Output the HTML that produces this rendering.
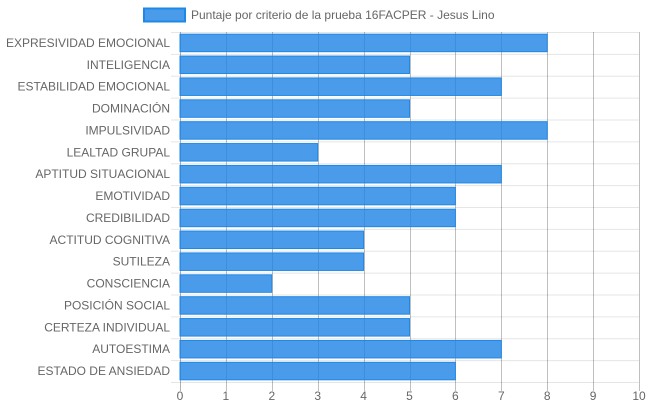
<!DOCTYPE html>
<html><head><meta charset="utf-8"><style>
body{margin:0;background:#fff;}
svg{display:block;font-family:"Liberation Sans",sans-serif;}
</style></head><body>
<svg id="c" width="648" height="410"></svg>
<script>
const categories=["EXPRESIVIDAD EMOCIONAL","INTELIGENCIA","ESTABILIDAD EMOCIONAL","DOMINACIÓN","IMPULSIVIDAD","LEALTAD GRUPAL","APTITUD SITUACIONAL","EMOTIVIDAD","CREDIBILIDAD","ACTITUD COGNITIVA","SUTILEZA","CONSCIENCIA","POSICIÓN SOCIAL","CERTEZA INDIVIDUAL","AUTOESTIMA","ESTADO DE ANSIEDAD"];
const values=[8,5,7,5,8,3,7,6,6,4,4,2,5,5,7,6];
const xTicks=[0,1,2,3,4,5,6,7,8,9,10];
const seriesLabel="Puntaje por criterio de la prueba 16FACPER - Jesus Lino";
const NS="http://www.w3.org/2000/svg";
const svg=document.getElementById('c');
const L=180,R=639,T=32,B=382;
const x=v=>L+(v-0)/(10-0)*(R-L);
const band=(B-T)/categories.length;
const y=i=>T+i*band;
function mk(t,a,p){const e=document.createElementNS(NS,t);for(const k in a)e.setAttribute(k,a[k]);(p||svg).appendChild(e);return e;}
// horizontal grid
for(let i=0;i<=categories.length;i++){
 const g=mk('line',{x1:171,x2:R,y1:y(i)+0.5,y2:y(i)+0.5,stroke:'rgba(0,0,0,0.1)'});
 
 
}
// vertical grid + ticks
xTicks.forEach(t=>{
 const g=mk('line',{x1:Math.round(x(t))+0.5,x2:Math.round(x(t))+0.5,y1:T,y2:B+9,stroke:t===0?'rgba(0,0,0,0.3)':'rgba(0,0,0,0.25)'});
 
 
 const tx=mk('text',{x:x(t),y:400,'text-anchor':'middle','font-size':12,fill:'#666'});
 tx.textContent=t;
 
 
});
// bars
categories.forEach((c,i)=>{
 const h=band*0.8, yy=y(i)+(band-h)/2;
 const r=mk('rect',{x:x(0),y:yy,width:x(values[i])-x(0),height:h,fill:'rgba(30,130,230,0.8)',stroke:'#1e88e5','stroke-width':1});
 
 
 const tx=mk('text',{x:170,y:y(i)+band/2+4,'text-anchor':'end','font-size':12,fill:'#666'});
 tx.textContent=c;
 
 
});
// legend
const lb=mk('rect',{x:144,y:8.5,width:41,height:13,fill:'rgba(30,130,230,0.8)',stroke:'#1e88e5','stroke-width':2});


const lt=mk('text',{x:191,y:19,'font-size':12,fill:'#666'});
lt.textContent=seriesLabel;


</script>
</body></html>
